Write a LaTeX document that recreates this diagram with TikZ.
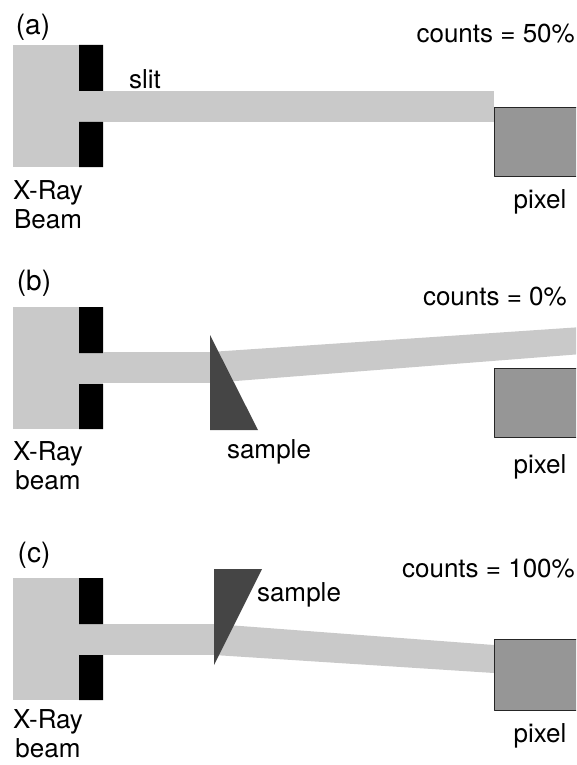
\documentclass[tikz,border=0pt]{standalone}
\usepackage{fontspec}
\setmainfont{TeX Gyre Heros}
\definecolor{beamgray}{gray}{0.79}
\definecolor{pixgray}{gray}{0.59}
\definecolor{samplegray}{gray}{0.27}
\begin{document}
\begin{tikzpicture}[x=1pt,y=-1pt, font=\fontsize{26}{29}\selectfont, line join=round,
	beam/.style={fill=beamgray},
	slitbar/.style={fill=black},
	pixelbox/.style={fill=pixgray,draw=black!85,line width=0.9pt},
	sampleshape/.style={fill=samplegray},
	lbl/.style={inner sep=0pt,align=center},
	panel/.style={lbl,font=\fontsize{28}{30}\selectfont}]
	\clip (0,0) rectangle (576,765);
	% source square and slit, same for all three rows
	\foreach \t in {45,307,578}{
		\fill[beam] (13,\t) rectangle (79,\t+122);
		\fill[beam] (79,\t+46) rectangle (103,\t+77);
		\fill[slitbar] (79,\t) rectangle (103,\t+46) (79,\t+77) rectangle (103,\t+122);
	}
	% (a) straight beam
	\fill[beam] (103,91) rectangle (494,122);
	\draw[pixelbox] (494,107) rectangle (582,176);
	\node[panel] (laba) at (33,27) {(a)};
	\node[lbl] (slit) at (145,79) {slit};
	\node[lbl] (srca) at (48,205) {X-Ray\\Beam};
	\node[lbl] (pixa) at (540,202) {pixel};
	\node[lbl,anchor=east] (cnta) at (575,34) {counts = 50\%};
	% (b) beam bent up
	\fill[beam] (103,352) rectangle (212,383);
	\fill[beam] (210,352) -- (582,327) -- (582,354) -- (210,383) -- cycle;
	\fill[sampleshape] (210,335) -- (210,430) -- (258,430) -- cycle;
	\draw[pixelbox] (494,368) rectangle (582,437);
	\node[panel] (labb) at (34,283) {(b)};
	\node[lbl] (smpb) at (269,452) {sample};
	\node[lbl] (srcb) at (48,466) {X-Ray\\beam};
	\node[lbl] (pixb) at (540,467) {pixel};
	\node[lbl,anchor=east] (cntb) at (567,297) {counts = 0\%};
	% (c) beam bent down onto the pixel
	\fill[beam] (103,624) rectangle (216,655);
	\fill[beam] (214,624) -- (494,645) -- (494,673) -- (214,655) -- cycle;
	\fill[sampleshape] (214,569) -- (262,569) -- (214,665) -- cycle;
	\draw[pixelbox] (494,639) rectangle (582,710);
	\node[panel] (labc) at (34,555) {(c)};
	\node[lbl] (smpc) at (299,595) {sample};
	\node[lbl] (srcc) at (48,734) {X-Ray\\beam};
	\node[lbl] (pixc) at (540,736) {pixel};
	\node[lbl,anchor=east] (cntc) at (575,569) {counts = 100\%};
\end{tikzpicture}
\end{document}
